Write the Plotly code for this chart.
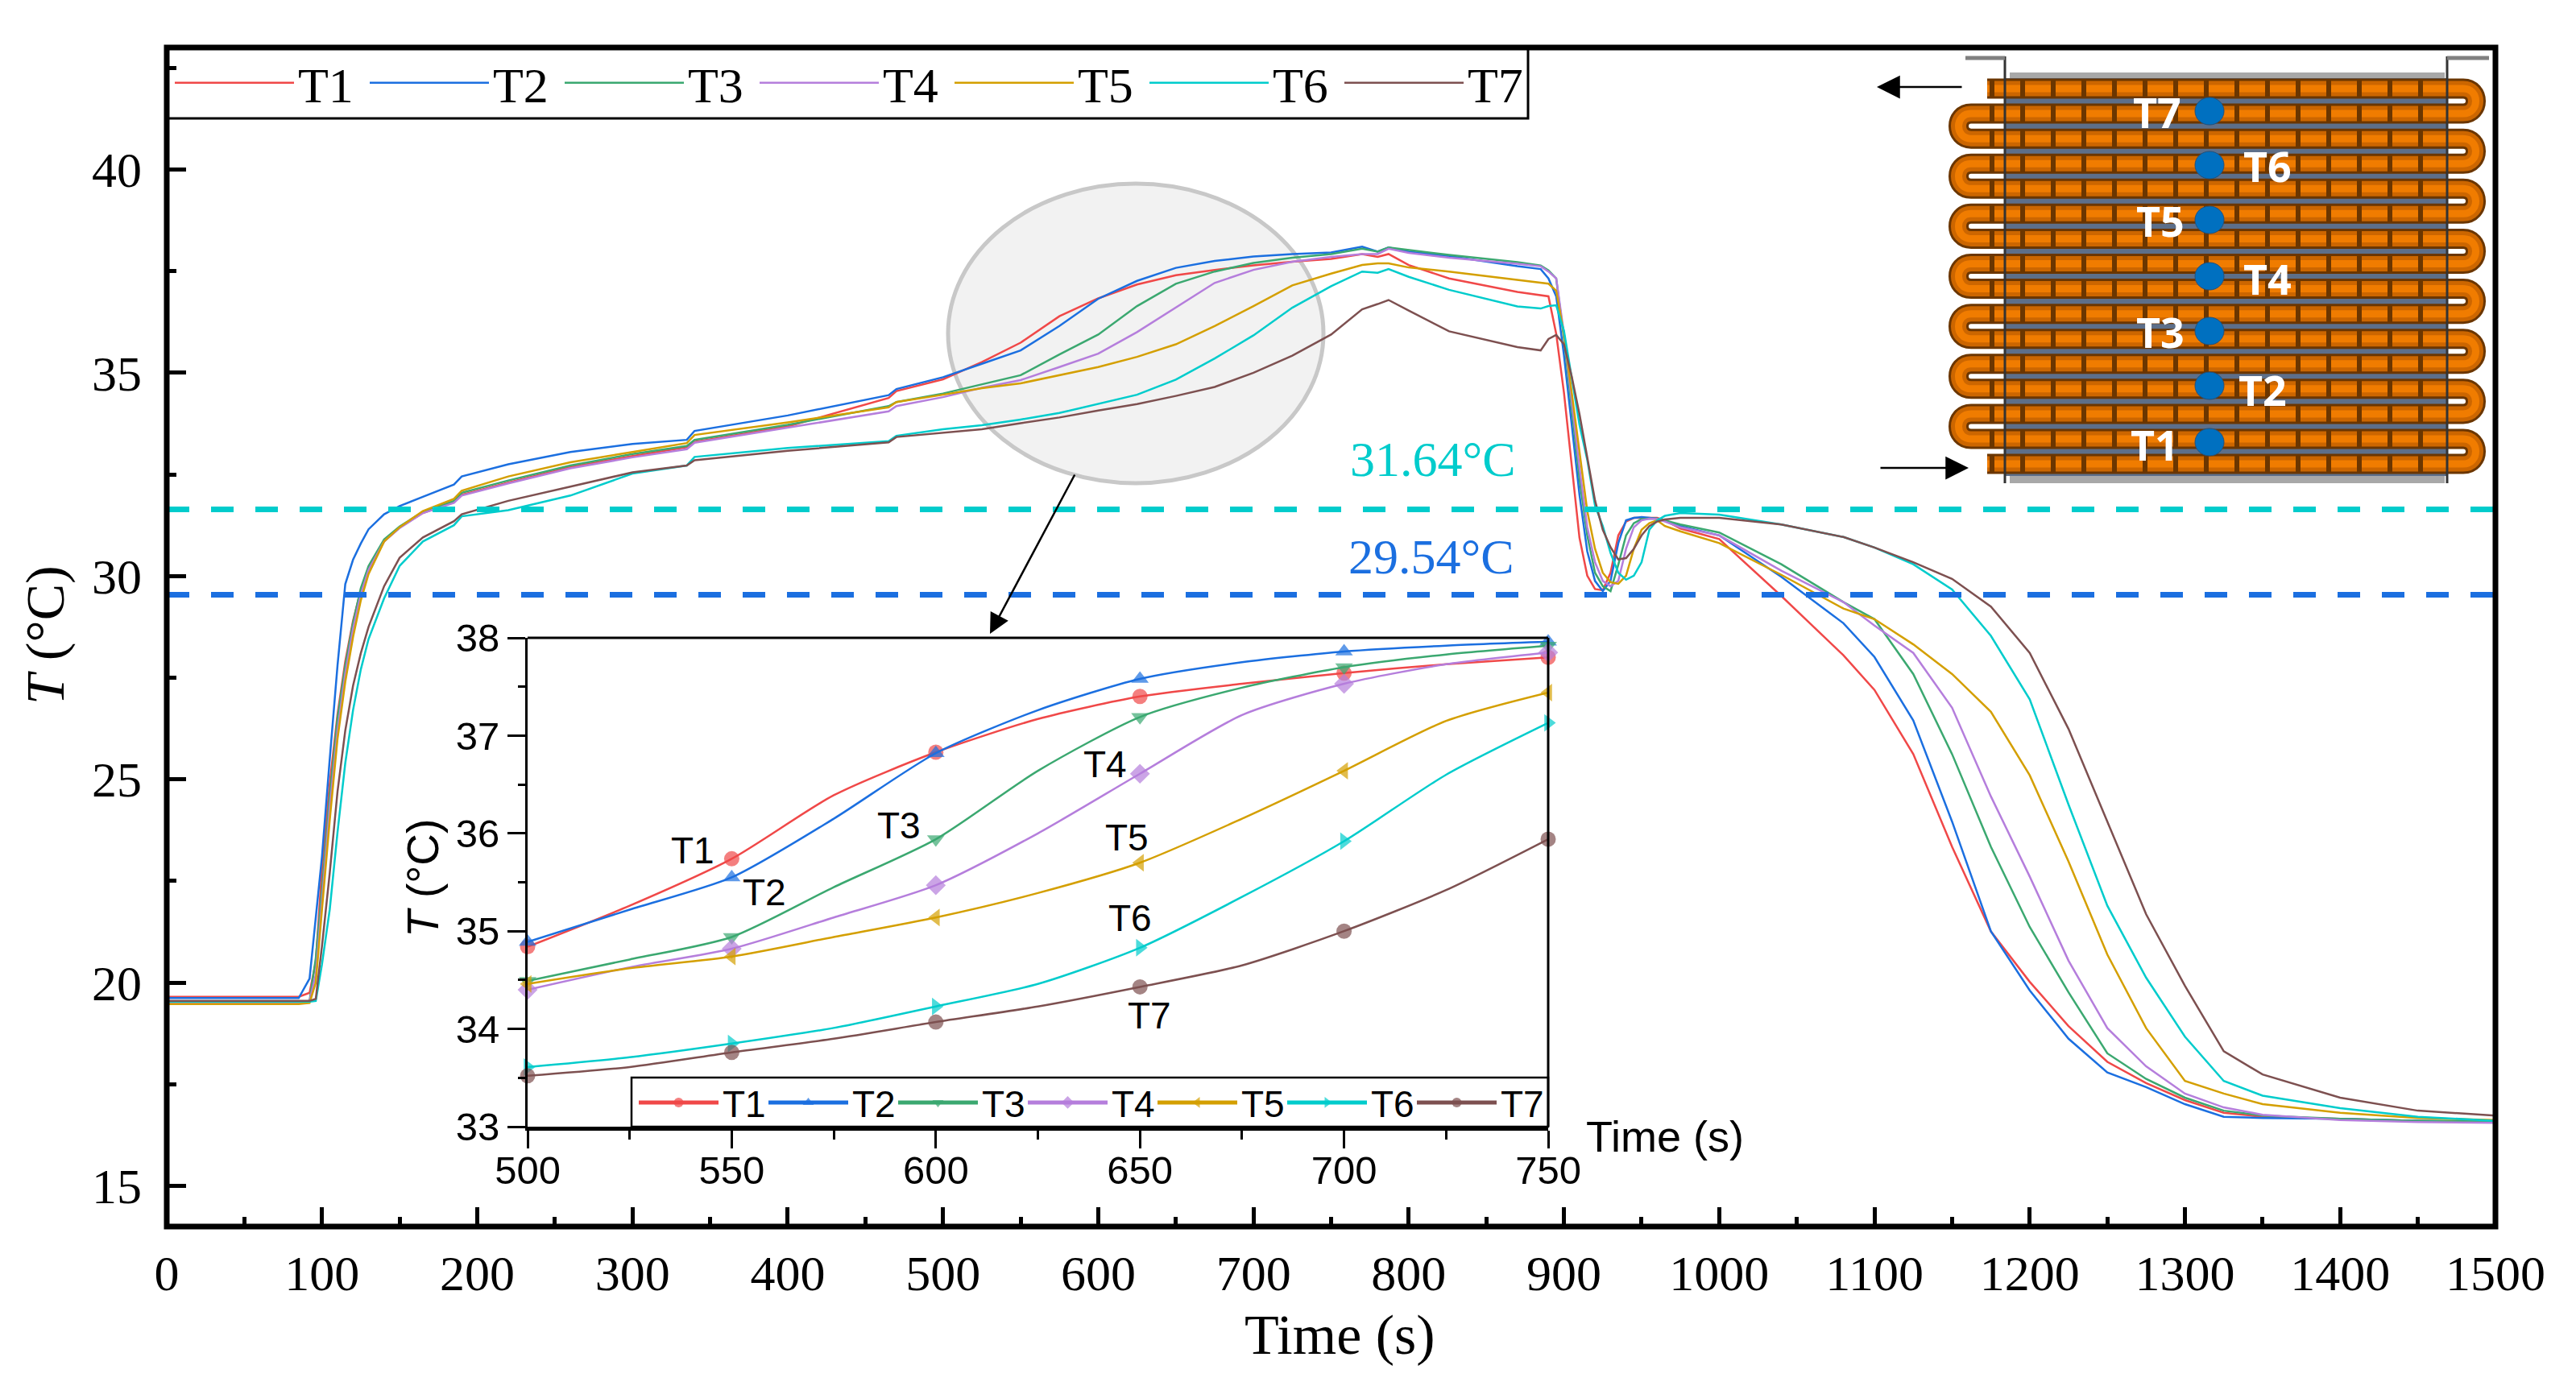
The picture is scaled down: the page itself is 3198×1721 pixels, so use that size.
import plotly.graph_objects as go

# canvas size of the reference
W, H = 3198, 1721

# time axis shared by all seven sensors (s)
time = [0, 85, 92, 96, 100, 105, 110, 115, 120, 125, 130, 140, 150, 165, 185, 190, 220, 260, 300, 335, 340, 400, 465, 470,
        500, 525, 550, 575, 600, 625, 650, 675, 700, 725, 750,
        770, 780, 787, 800, 826, 870,
        885, 890, 895, 900, 905, 910, 915, 920, 925, 930, 935, 940, 945, 950, 955, 960, 965,
        975, 1000, 1040, 1080, 1100, 1125, 1150, 1175, 1200, 1225, 1250, 1275, 1300, 1325, 1350, 1400, 1450, 1500]

T1 = [19.65, 19.65, 19.75, 20.5, 22.8, 24.9, 26.6, 27.9, 28.9, 29.65, 30.2, 30.85, 31.2, 31.55, 31.82, 32.0, 32.3, 32.68, 32.95, 33.17, 33.3, 33.68, 34.38, 34.55,
      34.84, 35.26, 35.74, 36.39, 36.83, 37.17, 37.40, 37.53, 37.64, 37.73, 37.80,
      37.92, 37.85, 37.92, 37.65, 37.32, 36.99,
      36.90, 36.88, 35.96, 34.51, 32.72, 30.94, 30.01, 29.68, 29.65, 30.08, 31.0, 31.34, 31.43, 31.43, 31.43, 31.43, 31.37,
      31.17, 30.91, 29.51, 28.05, 27.2, 25.62, 23.34, 21.26, 20.02, 18.93, 18.05, 17.53, 17.11, 16.8, 16.7, 16.65, 16.6, 16.57]
T2 = [19.62, 19.62, 20.1, 21.6, 23.1, 25.5, 27.8, 29.8, 30.4, 30.8, 31.15, 31.52, 31.72, 31.95, 32.25, 32.45, 32.75, 33.05, 33.25, 33.35, 33.57, 33.95, 34.45, 34.6,
      34.89, 35.22, 35.55, 36.15, 36.82, 37.26, 37.58, 37.75, 37.86, 37.92, 37.96,
      38.1, 37.98, 38.08, 37.98, 37.87, 37.62,
      37.55, 37.32, 36.88, 35.43, 33.72, 32.0, 30.61, 29.88, 29.63, 29.88, 30.81, 31.37, 31.43, 31.45, 31.43, 31.41, 31.37,
      31.23, 31.0, 29.98, 28.84, 28.01, 26.45, 23.96, 21.26, 19.81, 18.62, 17.79, 17.43, 17.01, 16.7, 16.67, 16.65, 16.6, 16.57]
T3 = [19.5, 19.5, 19.55, 20.6, 22.3, 24.6, 26.5, 27.8, 28.85, 29.7, 30.25, 30.9, 31.22, 31.58, 31.85, 32.05, 32.35, 32.72, 33.0, 33.2, 33.35, 33.72, 34.18, 34.28,
      34.49, 34.71, 34.94, 35.45, 35.94, 36.64, 37.19, 37.49, 37.70, 37.83, 37.92,
      38.05, 37.98, 38.08, 38.02, 37.9, 37.72,
      37.64, 37.52, 37.32, 35.83, 34.11, 32.39, 31.0, 30.08, 29.75, 29.63, 30.28, 31.0, 31.3, 31.4, 31.41, 31.41, 31.37,
      31.27, 31.07, 30.29, 29.36, 28.94, 27.59, 25.62, 23.34, 21.37, 19.76, 18.26, 17.63, 17.17, 16.85, 16.73, 16.65, 16.6, 16.6]
T4 = [19.5, 19.5, 19.55, 20.2, 22.0, 24.3, 26.2, 27.6, 28.7, 29.55, 30.15, 30.85, 31.18, 31.55, 31.8, 31.98, 32.28, 32.65, 32.92, 33.12, 33.28, 33.65, 34.05, 34.18,
      34.40, 34.63, 34.82, 35.14, 35.47, 36.0, 36.61, 37.21, 37.53, 37.73, 37.85,
      37.92, 37.92, 38.05, 37.95, 37.83, 37.68,
      37.62, 37.49, 37.32, 35.96, 34.31, 32.66, 31.2, 30.34, 29.88, 29.75, 29.88, 30.67, 31.2, 31.37, 31.41, 31.4, 31.34,
      31.2, 31.0, 30.13, 29.36, 28.78, 28.11, 26.76, 24.58, 22.61, 20.54, 18.88, 17.94, 17.27, 16.93, 16.75, 16.62, 16.57, 16.55]
T5 = [19.47, 19.47, 19.5, 20.0, 21.8, 24.0, 26.0, 27.4, 28.5, 29.4, 30.05, 30.85, 31.2, 31.6, 31.9, 32.1, 32.45, 32.8, 33.05, 33.27, 33.47, 33.78, 34.15, 34.28,
      34.46, 34.62, 34.74, 34.94, 35.14, 35.39, 35.70, 36.15, 36.64, 37.15, 37.44,
      37.65, 37.69, 37.69, 37.59, 37.49, 37.29,
      37.21, 37.19, 37.02, 35.96, 34.51, 33.05, 31.6, 30.67, 30.08, 29.85, 29.81, 30.01, 30.67, 31.14, 31.3, 31.37, 31.23,
      31.1, 30.81, 30.03, 29.2, 28.94, 28.32, 27.59, 26.66, 25.1, 22.98, 20.69, 18.88, 17.58, 17.27, 17.01, 16.8, 16.67, 16.62]
T6 = [19.53, 19.53, 19.53, 19.55, 20.45, 21.8, 23.7, 25.4, 26.7, 27.7, 28.45, 29.45, 30.25, 30.85, 31.25, 31.47, 31.62, 31.98, 32.52, 32.72, 32.93, 33.15, 33.32, 33.45,
      33.61, 33.71, 33.85, 34.01, 34.23, 34.46, 34.83, 35.35, 35.92, 36.60, 37.13,
      37.49, 37.46, 37.55, 37.36, 37.04, 36.63,
      36.58, 36.64, 36.66, 36.03, 34.91, 33.72, 32.86, 31.73, 31.23, 30.57, 30.08, 29.91, 30.01, 30.34, 31.14, 31.37, 31.48,
      31.55, 31.51, 31.27, 30.96, 30.7, 30.29, 29.67, 28.53, 26.97, 24.38, 21.89, 20.12, 18.67, 17.58, 17.22, 16.91, 16.7, 16.6]
T7 = [19.55, 19.55, 19.55, 19.6, 20.9, 22.7, 24.7, 26.2, 27.3, 28.1, 28.75, 29.75, 30.45, 30.95, 31.35, 31.52, 31.85, 32.2, 32.55, 32.72, 32.85, 33.08, 33.29, 33.42,
      33.52, 33.61, 33.76, 33.90, 34.07, 34.23, 34.43, 34.65, 35.0, 35.42, 35.94,
      36.56, 36.69, 36.79, 36.53, 36.02, 35.63,
      35.55, 35.83, 35.93, 35.7, 34.91, 33.98, 32.92, 31.86, 31.14, 30.71, 30.41, 30.44, 30.67, 31.0, 31.23, 31.34, 31.39,
      31.43, 31.43, 31.27, 30.96, 30.7, 30.34, 29.93, 29.25, 28.11, 26.24, 23.96, 21.68, 19.92, 18.31, 17.74, 17.17, 16.85, 16.73]

names = ['T1', 'T2', 'T3', 'T4', 'T5', 'T6', 'T7']
series = [T1, T2, T3, T4, T5, T6, T7]
colors = ['#F04848', '#1B6FE0', '#3BA870', '#B57EDC', '#D49F00', '#00CCCC', '#7D5050']
symbols = ['circle', 'triangle-up', 'triangle-down', 'diamond', 'triangle-left', 'triangle-right', 'circle']

# the two reference temperatures
level_values = [31.64, 29.54]
level_colors = ['#00CCCC', '#1B6FE0']

# slice of the time axis shown in the inset
inset_start, inset_end = 24, 35

SERIF = 'Liberation Serif'
SANS = 'Liberation Sans'


def fx(x):
    return x / W


def fy(y):
    return 1 - y / H


fig = go.Figure()

# main curves
for name, values, color in zip(names, series, colors):
    fig.add_trace(go.Scatter(x=time, y=values, mode='lines', name=name, legend='legend',
                             line=dict(color=color, width=2.5)))

# dashed levels
for value, color in zip(level_values, level_colors):
    fig.add_trace(go.Scatter(x=[0, 1500], y=[value, value], mode='lines', showlegend=False,
                             line=dict(color=color, width=7, dash='28px,27px')))

# inset curves, a marker every 50 s
inset_time = time[inset_start:inset_end]
marker_sizes = [19 if t % 50 == 0 else 0 for t in inset_time]
for name, values, color, symbol in zip(names, series, colors, symbols):
    fig.add_trace(go.Scatter(x=inset_time, y=values[inset_start:inset_end], mode='lines+markers', name=name,
                             xaxis='x2', yaxis='y2', legend='legend2', cliponaxis=False,
                             line=dict(color=color, width=2.5, shape='spline', smoothing=0.7),
                             marker=dict(size=marker_sizes, symbol=symbol, color=color, line=dict(width=0))))

# ---- shapes ----
shapes = []


def add_rect(x0, y0, x1, y1, **kw):
    shapes.append(dict(type='rect', xref='paper', yref='paper', x0=fx(x0), y0=fy(y0), x1=fx(x1), y1=fy(y1), **kw))


def add_line(x0, y0, x1, y1, **kw):
    shapes.append(dict(type='line', xref='paper', yref='paper', x0=fx(x0), y0=fy(y0), x1=fx(x1), y1=fy(y1), **kw))


# grey ellipse behind the curves
shapes.append(dict(type='circle', xref='paper', yref='paper', layer='below',
                   x0=fx(1177), y0=fy(600), x1=fx(1643), y1=fy(228),
                   fillcolor='#F2F2F2', line=dict(color='#C8C8C8', width=5)))

# main frame and legend box
add_rect(207, 59, 3098, 1523, line=dict(color='black', width=7))
add_rect(207, 59, 1897, 147, line=dict(color='black', width=3))

# inset frame, the axes draw left and bottom
add_line(655, 792, 1922, 792, line=dict(color='black', width=3))
add_line(1922, 792, 1922, 1399, line=dict(color='black', width=3))
add_rect(784, 1338, 1922, 1399, line=dict(color='black', width=2.5))

# coil sketch at the top right
tube_top, tube_gap, tube_count = 110, 31.07, 16
tube_y = [tube_top + tube_gap * i for i in range(tube_count)]
add_rect(2489, 97, 3038, 591, fillcolor='#5D6F8A', line=dict(width=0))
add_rect(2495, 90, 3035, 97, fillcolor='#A8A8A8', line=dict(width=0))
add_rect(2495, 591, 3035, 600, fillcolor='#A8A8A8', line=dict(width=0))
coil = f'M{fx(2467)},{fy(tube_y[0])}'
for i, y in enumerate(tube_y):
    on_right = i % 2 == 0
    # the last row stops at the inlet stub instead of bending
    if i == tube_count - 1:
        x_end = 2467
    else:
        x_end = 3058 if on_right else 2447
    coil += f' L{fx(x_end)},{fy(y)}'
    if i < tube_count - 1:
        x_ctrl = x_end + 20.7 if on_right else x_end - 20.7
        coil += f' C{fx(x_ctrl)},{fy(y)} {fx(x_ctrl)},{fy(tube_y[i + 1])} {fx(x_end)},{fy(tube_y[i + 1])}'
shapes.append(dict(type='path', xref='paper', yref='paper', path=coil, line=dict(color='#6B3600', width=25)))
shapes.append(dict(type='path', xref='paper', yref='paper', path=coil, line=dict(color='#CC6600', width=19)))
shapes.append(dict(type='path', xref='paper', yref='paper', path=coil, line=dict(color='#F07C00', width=9)))
for y in tube_y:
    add_line(2470, y, 3040, y, line=dict(color='#6B3600', width=21, dash='6px,32px'))

# bracket of the coil
add_line(2489, 70, 2489, 600, line=dict(color='#333333', width=3))
add_line(3038, 70, 3038, 600, line=dict(color='#333333', width=3))
add_line(2440, 72, 2489, 72, line=dict(color='#808080', width=5))
add_line(3038, 72, 3090, 72, line=dict(color='#808080', width=5))

# sensor dots
dot_y = [549, 479, 411, 343, 273, 205, 138]
for y in dot_y:
    shapes.append(dict(type='circle', xref='paper', yref='paper', x0=fx(2725), y0=fy(y + 17), x1=fx(2761), y1=fy(y - 17),
                       fillcolor='#0070C0', line=dict(color='#24507A', width=1)))

# ---- texts ----
annotations = []


def add_text(text, x, y, size, color='black', family=SERIF, angle=0):
    annotations.append(dict(text=text, x=fx(x), y=fy(y), xref='paper', yref='paper', showarrow=False,
                            font=dict(family=family, size=size, color=color), textangle=angle,
                            xanchor='center', yanchor='middle'))


def add_arrow(x, y, dx, dy, scale):
    annotations.append(dict(text='', x=fx(x), y=fy(y), xref='paper', yref='paper', showarrow=True,
                            ax=dx, ay=dy, arrowhead=2, arrowwidth=2.5, arrowsize=scale, arrowcolor='black'))


add_text('<i>T</i> (°C)', 56, 789, 68, angle=-90)
add_text('Time (s)', 1663, 1657, 70)
add_text('31.64°C', 1779, 570, 62, color=level_colors[0])
add_text('29.54°C', 1777, 691, 62, color=level_colors[1])

# inset texts
add_text('<i>T</i> (°C)', 525, 1091, 55, family=SANS, angle=-90)
add_text('Time (s)', 2067, 1411, 54, family=SANS)
inset_labels = [('T1', 860, 1056), ('T2', 949, 1108), ('T3', 1116, 1025), ('T4', 1372, 949),
                ('T5', 1399, 1040), ('T6', 1403, 1140), ('T7', 1427, 1261)]
for label, x, y in inset_labels:
    add_text(label, x, y, 46, family=SANS)

# coil labels
coil_labels = [('T7', 2678, 139), ('T6', 2815, 206), ('T5', 2682, 273), ('T4', 2815, 345),
               ('T3', 2682, 412), ('T2', 2809, 483), ('T1', 2675, 551)]
for label, x, y in coil_labels:
    add_text(f'<b>{label}</b>', x, y, 52, color='white', family='Open Sans')

# arrows
add_arrow(2330, 108, 107, 0, 2.3)
add_arrow(2444, 581, -111, 0, 2.3)
add_arrow(1229, 787, 106, -199, 2.0)

fig.update_layout(
    width=W, height=H,
    autosize=False,
    margin=dict(l=0, r=0, t=0, b=0, autoexpand=False),
    paper_bgcolor='white',
    plot_bgcolor='rgba(0,0,0,0)',
    shapes=shapes,
    annotations=annotations,
    legend=dict(orientation='h', x=fx(212), y=fy(103), xanchor='left', yanchor='middle',
                bgcolor='rgba(0,0,0,0)', borderwidth=0, itemwidth=148, entrywidth=79, entrywidthmode='pixels',
                font=dict(family=SERIF, size=62, color='black')),
    legend2=dict(orientation='h', x=fx(788), y=fy(1369), xanchor='left', yanchor='middle',
                 bgcolor='rgba(0,0,0,0)', borderwidth=0, itemwidth=99, itemsizing='constant',
                 entrywidth=47, entrywidthmode='pixels',
                 font=dict(family=SANS, size=46, color='black')),
    xaxis=dict(domain=[fx(207), fx(3098)], range=[0, 1500], dtick=100, tick0=0,
               ticks='inside', ticklen=24, tickwidth=5, tickcolor='black',
               minor=dict(dtick=50, ticks='inside', ticklen=12, tickwidth=5, tickcolor='black'),
               showgrid=False, zeroline=False, showline=False, ticklabelstandoff=16,
               tickfont=dict(family=SERIF, size=62, color='black')),
    yaxis=dict(domain=[fy(1523), fy(59)], range=[14, 43], dtick=5, tick0=0,
               ticks='inside', ticklen=24, tickwidth=5, tickcolor='black',
               minor=dict(dtick=2.5, ticks='inside', ticklen=12, tickwidth=5, tickcolor='black'),
               showgrid=False, zeroline=False, showline=False, ticklabelstandoff=30,
               tickfont=dict(family=SERIF, size=62, color='black')),
    xaxis2=dict(domain=[fx(655), fx(1922)], range=[500, 750], dtick=50, anchor='y2',
                ticks='outside', ticklen=22, tickwidth=3, tickcolor='black',
                minor=dict(dtick=25, ticks='outside', ticklen=11, tickwidth=3, tickcolor='black'),
                showgrid=False, zeroline=False, showline=True, linewidth=5, linecolor='black',
                ticklabelstandoff=-15,
                tickfont=dict(family=SANS, size=49, color='black')),
    yaxis2=dict(domain=[fy(1399), fy(792)], range=[33, 38], dtick=1, anchor='x2',
                ticks='outside', ticklen=22, tickwidth=3, tickcolor='black',
                minor=dict(dtick=0.5, ticks='outside', ticklen=9, tickwidth=3, tickcolor='black'),
                showgrid=False, zeroline=False, showline=True, linewidth=3, linecolor='black',
                tickfont=dict(family=SANS, size=49, color='black')),
)

# 写出图表，去掉页面默认边距
fig.write_html("out.html", config={'displayModeBar': False}, post_script="document.body.style.margin='0';")
